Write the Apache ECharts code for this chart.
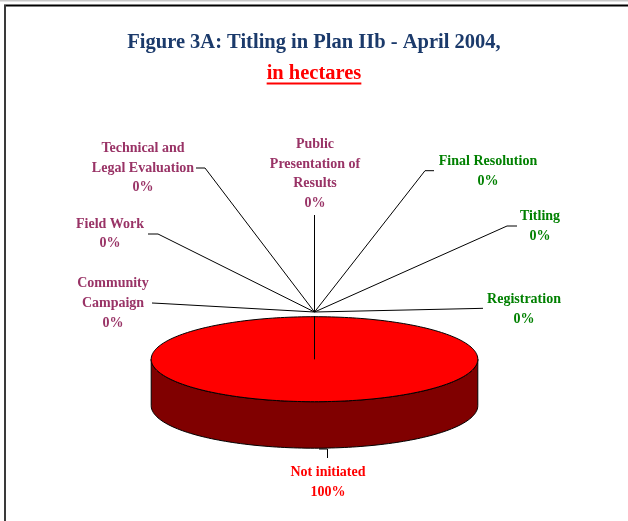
<!DOCTYPE html>
<html><head><meta charset="utf-8">
<script src="https://cdn.jsdelivr.net/npm/echarts@6/dist/echarts.min.js"></script>
<style>html,body{margin:0;padding:0;background:#fff}#c{width:628px;height:521px}</style>
</head><body><div id="c"></div>
<script>
// ---- data ----
const categories = ['Community Campaign', 'Field Work', 'Technical and Legal Evaluation',
  'Public Presentation of Results', 'Final Resolution', 'Titling', 'Registration', 'Not initiated'];
const labelText = ['Community\nCampaign', 'Field Work', 'Technical and\nLegal Evaluation',
  'Public\nPresentation of\nResults', 'Final Resolution', 'Titling', 'Registration', 'Not initiated'];
const values = [0, 0, 0, 0, 0, 0, 0, 100];
const titleText = 'Figure 3A: Titling in Plan IIb - April 2004,';
const subtitleText = 'in hectares';

// ---- styles / layout ----
const MAUVE = '#993366', GREEN = '#008000', RED = '#FF0000';
const labelColors = [MAUVE, MAUVE, MAUVE, MAUVE, GREEN, GREEN, GREEN, RED];
const PIE = { cx: 314.5, cy: 359.2, rx: 163.3, ry: 42.5, depth: 46.5 };
const TOP_COLOR = '#FF0000', SIDE_COLOR = '#800000';
const CONV = [314.5, 312];
const labelPlace = [
  { x: 113, y: 303.5, line: [CONV, [162, 303.5], [152, 303]] },
  { x: 110, y: 234, line: [CONV, [158, 234], [148, 234]] },
  { x: 143, y: 168, line: [CONV, [205, 168], [196, 168]] },
  { x: 315, y: 174, line: [CONV, [314.5, 240], [314.5, 215]] },
  { x: 488, y: 171.7, line: [CONV, [425, 170.7], [434, 170.7]] },
  { x: 540, y: 226.7, line: [CONV, [507, 226], [517, 226]] },
  { x: 524, y: 309.3, line: [CONV, [475, 308.5], [483, 308.3]] },
  { x: 328, y: 482.5, line: [[319, 449], [327.5, 449], [327.5, 458]] }
];
const FONT = '"Liberation Serif", "Times New Roman", serif';
const TITLE_SIZE = 20.5;

const total = values.reduce((a, b) => a + b, 0);
function arcPts(a0, a1, dy) {
  const n = Math.max(1, Math.ceil((a1 - a0) / (2 * Math.PI) * 240));
  const pts = [];
  for (let i = 0; i <= n; i++) {
    const t = a0 + (a1 - a0) * i / n;
    pts.push([PIE.cx + PIE.rx * Math.sin(t), PIE.cy - PIE.ry * Math.cos(t) + dy]);
  }
  return pts;
}

// measure subtitle width for underline
const mctx = document.createElement('canvas').getContext('2d');
mctx.font = 'bold ' + TITLE_SIZE + 'px ' + FONT;
const subW = mctx.measureText(subtitleText).width;

const chart = echarts.init(document.getElementById('c'), null, { renderer: 'canvas' });
chart.setOption({
  animation: false,
  backgroundColor: '#fff',
  title: [
    { text: titleText, left: 'center', top: 32, padding: 0,
      textStyle: { fontFamily: FONT, fontSize: TITLE_SIZE, fontWeight: 'bold', color: '#1B3A6B', lineHeight: 22 } },
    { text: subtitleText, left: 'center', top: 63, padding: 0,
      textStyle: { fontFamily: FONT, fontSize: TITLE_SIZE, fontWeight: 'bold', color: RED, lineHeight: 22 } }
  ],
  graphic: [
    { type: 'line', shape: { x1: 0, y1: 0.5, x2: 628, y2: 0.5 }, style: { stroke: '#c8c8c8', lineWidth: 2 }, silent: true },
    { type: 'line', shape: { x1: 4, y1: 5.5, x2: 628, y2: 5.5 }, style: { stroke: '#000', lineWidth: 2 }, silent: true },
    { type: 'line', shape: { x1: 5, y1: 5, x2: 5, y2: 521 }, style: { stroke: '#3a3a3a', lineWidth: 2 }, silent: true },
    { type: 'line', shape: { x1: 314 - subW / 2, y1: 83.5, x2: 314 + subW / 2, y2: 83.5 }, style: { stroke: RED, lineWidth: 2 }, silent: true }
  ],
  series: [
    {
      type: 'custom',
      coordinateSystem: 'none',
      silent: true,
      data: values.map((v, i) => ({ name: categories[i], value: v })),
      renderItem: function (params, api) {
        const i = params.dataIndex;
        let before = 0;
        for (let j = 0; j < i; j++) before += values[j];
        const a0 = before / total * 2 * Math.PI;
        const a1 = (before + api.value(0)) / total * 2 * Math.PI;
        const children = [];
        const s0 = Math.max(a0, Math.PI / 2), s1 = Math.min(a1, 3 * Math.PI / 2);
        if (s1 > s0) {
          const top = arcPts(s0, s1, 0);
          const bot = arcPts(s0, s1, PIE.depth).reverse();
          children.push({ type: 'polygon', shape: { points: top.concat(bot) },
            style: { fill: SIDE_COLOR, stroke: '#000', lineWidth: 1 } });
        }
        const topPts = [[PIE.cx, PIE.cy]].concat(arcPts(a0, a1, 0));
        children.push({ type: 'polygon', shape: { points: topPts }, z2: 10,
          style: { fill: TOP_COLOR, stroke: '#000', lineWidth: 1 } });
        return { type: 'group', children: children };
      }
    },
    {
      type: 'pie',
      silent: true,
      z: 5,
      center: [PIE.cx, PIE.cy],
      radius: [0, PIE.rx],
      avoidLabelOverlap: false,
      percentPrecision: 0,
      itemStyle: { color: 'rgba(0,0,0,0)', borderWidth: 0 },
      emphasis: { disabled: true },
      label: {
        show: true, position: 'outside',
        fontFamily: FONT, fontSize: 14, fontWeight: 'bold', lineHeight: 19.7,
        formatter: function (p) { return labelText[p.dataIndex] + '\n' + p.percent + '%'; }
      },
      labelLine: { show: true, length: 10, length2: 10, smooth: false, lineStyle: { color: '#000', width: 1 } },
      labelLayout: function (params) {
        const lp = labelPlace[params.dataIndex];
        return { x: lp.x, y: lp.y, align: 'center', verticalAlign: 'middle', labelLinePoints: lp.line };
      },
      data: values.map((v, i) => ({ name: categories[i], value: v, label: { color: labelColors[i] } }))
    }
  ]
});
</script></body></html>
